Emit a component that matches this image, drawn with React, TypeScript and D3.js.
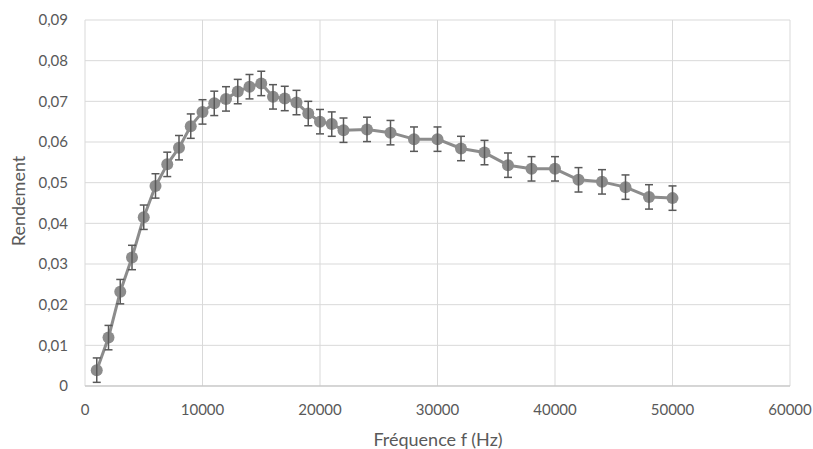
import React from "react";
import * as d3 from "d3";

const freq = [1000, 2000, 3000, 4000, 5000, 6000, 7000, 8000, 9000, 10000, 11000, 12000, 13000, 14000, 15000, 16000, 17000, 18000, 19000, 20000, 21000, 22000, 24000, 26000, 28000, 30000, 32000, 34000, 36000, 38000, 40000, 42000, 44000, 46000, 48000, 50000];
const rendement = [0.0039, 0.0119, 0.0232, 0.0316, 0.0415, 0.0492, 0.0545, 0.0586, 0.0639, 0.0674, 0.0695, 0.0706, 0.0724, 0.0736, 0.0744, 0.0711, 0.0707, 0.0697, 0.067, 0.065, 0.0644, 0.0629, 0.0631, 0.0623, 0.0607, 0.0607, 0.0584, 0.0574, 0.0543, 0.0534, 0.0534, 0.0507, 0.0502, 0.0489, 0.0465, 0.0462];
const errorBar = 0.003;
const xTicks = [0, 10000, 20000, 30000, 40000, 50000, 60000];
const yTicks = [0, 0.01, 0.02, 0.03, 0.04, 0.05, 0.06, 0.07, 0.08, 0.09];
const xTitle = "Fréquence f (Hz)";
const yTitle = "Rendement";

const W = 813, H = 449;
const left = 85, right = 790, top = 20, bottom = 386;
const FONT = "Lato, 'Open Sans', sans-serif";

export default function App() {
  const x = d3.scaleLinear().domain([0, 60000]).range([left, right]);
  const y = d3.scaleLinear().domain([0, 0.09]).range([bottom, top]);
  const line = d3.line<number>().x((_, i) => x(freq[i])).y((d) => y(d));
  const fmtY = (v: number) => (v === 0 ? "0" : v.toFixed(2).replace(".", ","));
  return (
    <svg width={W} height={H} style={{ position: "absolute", left: 0, top: 0, background: "#fff" }}>
      {yTicks.map((t) => (
        <line key={"gy" + t} x1={left} x2={right} y1={y(t)} y2={y(t)} stroke="#d9d9d9" strokeWidth={1} />
      ))}
      {xTicks.map((t) => (
        <line key={"gx" + t} x1={x(t)} x2={x(t)} y1={top} y2={bottom} stroke="#d9d9d9" strokeWidth={1} />
      ))}
      <line x1={left} x2={right} y1={bottom} y2={bottom} stroke="#bfbfbf" strokeWidth={1} />
      {yTicks.map((t) => (
        <text key={"ty" + t} x={68} y={y(t)} dy="0.35em" textAnchor="end" fontFamily={FONT} fontSize={15} fill="#595959">
          {fmtY(t)}
        </text>
      ))}
      {xTicks.map((t) => (
        <text key={"tx" + t} x={x(t)} y={410} dy="0.35em" textAnchor="middle" fontFamily={FONT} fontSize={15} fill="#595959">
          {t}
        </text>
      ))}
      <text x={438} y={440} dy="0.35em" textAnchor="middle" fontFamily={FONT} fontSize={18} fill="#595959">
        {xTitle}
      </text>
      <text transform={`translate(19,201) rotate(-90)`} dy="0.35em" textAnchor="middle" fontFamily={FONT} fontSize={18} fill="#595959">
        {yTitle}
      </text>
      <path d={line(rendement) || ""} fill="none" stroke="#8c8c8c" strokeWidth={3} strokeLinejoin="round" />
      {rendement.map((v, i) => (
        <circle key={"c" + i} cx={x(freq[i])} cy={y(v)} r={6} fill="#8c8c8c" />
      ))}
      {rendement.map((v, i) => {
        const cx = x(freq[i]);
        const y1 = y(v + errorBar), y2 = y(v - errorBar);
        return (
          <g key={"e" + i} stroke="#595959" strokeWidth={1.5}>
            <line x1={cx} x2={cx} y1={y1} y2={y2} />
            <line x1={cx - 4} x2={cx + 4} y1={y1} y2={y1} />
            <line x1={cx - 4} x2={cx + 4} y1={y2} y2={y2} />
          </g>
        );
      })}
    </svg>
  );
}
